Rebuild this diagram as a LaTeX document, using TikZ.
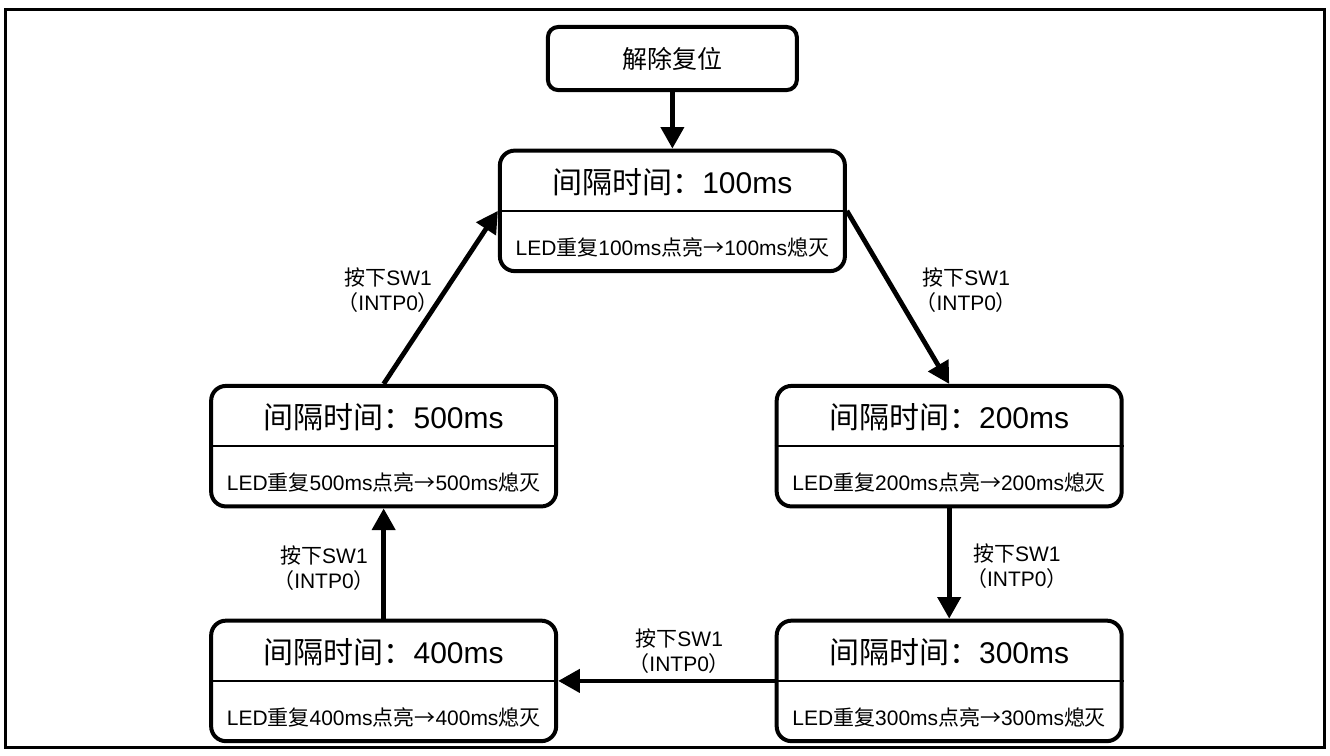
\documentclass[tikz,border=0pt]{standalone}
\usepackage{fontspec}
\setmainfont{Liberation Sans}
\newfontfamily\cjk{Noto Sans CJK SC}
\usepackage{tikz}
\usetikzlibrary{arrows.meta}
\newcommand{\zh}[1]{{\cjk #1}}
\tikzset{
  state/.style={draw=black, line width=2pt, rounded corners=0.26cm, minimum width=6.07cm, minimum height=2.12cm, inner sep=0pt},
  startbox/.style={draw=black, line width=2pt, rounded corners=0.18cm, minimum width=4.38cm, minimum height=1.11cm, inner sep=0pt, font=\fontsize{12.5}{15}\selectfont},
  statetitle/.style={font=\fontsize{15}{18}\selectfont},
  statenote/.style={font=\fontsize{10.5}{12.6}\selectfont},
  divider/.style={line width=0.7pt},
  flow/.style={line width=2.4pt, -{Triangle[length=0.38cm, width=0.4cm]}},
  flowlabel/.style={font=\fontsize{10.5}{12.6}\selectfont, align=center, inner sep=0pt},
}

\begin{document}
\begin{tikzpicture}[x=1cm, y=1cm]
\useasboundingbox (0,0) rectangle (23.4,13.3);
\draw[line width=1.5pt] (0.10,0.14) rectangle (23.31,13.14);
\node[startbox] (reset) at (11.83,12.27) {\zh{解除复位}};
\node[state] (s100) at (11.83,9.59) {};
\node[statetitle] (s100t) at (11.83,10.10) {\zh{间隔时间：}100ms};
\node[statenote] (s100n) at (11.83,8.95) {LED\zh{重复}100ms\zh{点亮→}100ms\zh{熄灭}};
\draw[divider] (s100.west) -- (s100.east);
\node[state] (s200) at (16.70,5.45) {};
\node[statetitle] (s200t) at (16.70,5.96) {\zh{间隔时间：}200ms};
\node[statenote] (s200n) at (16.70,4.81) {LED\zh{重复}200ms\zh{点亮→}200ms\zh{熄灭}};
\draw[divider] (s200.west) -- (s200.east);
\node[state] (s300) at (16.70,1.32) {};
\node[statetitle] (s300t) at (16.70,1.83) {\zh{间隔时间：}300ms};
\node[statenote] (s300n) at (16.70,0.68) {LED\zh{重复}300ms\zh{点亮→}300ms\zh{熄灭}};
\draw[divider] (s300.west) -- (s300.east);
\node[state] (s400) at (6.75,1.32) {};
\node[statetitle] (s400t) at (6.75,1.83) {\zh{间隔时间：}400ms};
\node[statenote] (s400n) at (6.75,0.68) {LED\zh{重复}400ms\zh{点亮→}400ms\zh{熄灭}};
\draw[divider] (s400.west) -- (s400.east);
\node[state] (s500) at (6.75,5.45) {};
\node[statetitle] (s500t) at (6.75,5.96) {\zh{间隔时间：}500ms};
\node[statenote] (s500n) at (6.75,4.81) {LED\zh{重复}500ms\zh{点亮→}500ms\zh{熄灭}};
\draw[divider] (s500.west) -- (s500.east);
\draw[flow] (reset.south) -- (s100.north);
\draw[flow] (s100.east) -- (s200.north);
\draw[flow] (s200.south) -- (s300.north);
\draw[flow] (s300.west) -- (s400.east);
\draw[flow] (s400.north) -- (s500.south);
\draw[flow] (s500.north) -- (s100.west);
\node[flowlabel] (l12) at (17.00,8.20) {\zh{按下}SW1\\\zh{（}INTP0\zh{）}};
\node[flowlabel] (l23) at (17.89,3.34) {\zh{按下}SW1\\\zh{（}INTP0\zh{）}};
\node[flowlabel] (l34) at (11.95,1.85) {\zh{按下}SW1\\\zh{（}INTP0\zh{）}};
\node[flowlabel] (l45) at (5.70,3.31) {\zh{按下}SW1\\\zh{（}INTP0\zh{）}};
\node[flowlabel] (l51) at (6.83,8.20) {\zh{按下}SW1\\\zh{（}INTP0\zh{）}};
\end{tikzpicture}
\end{document}
